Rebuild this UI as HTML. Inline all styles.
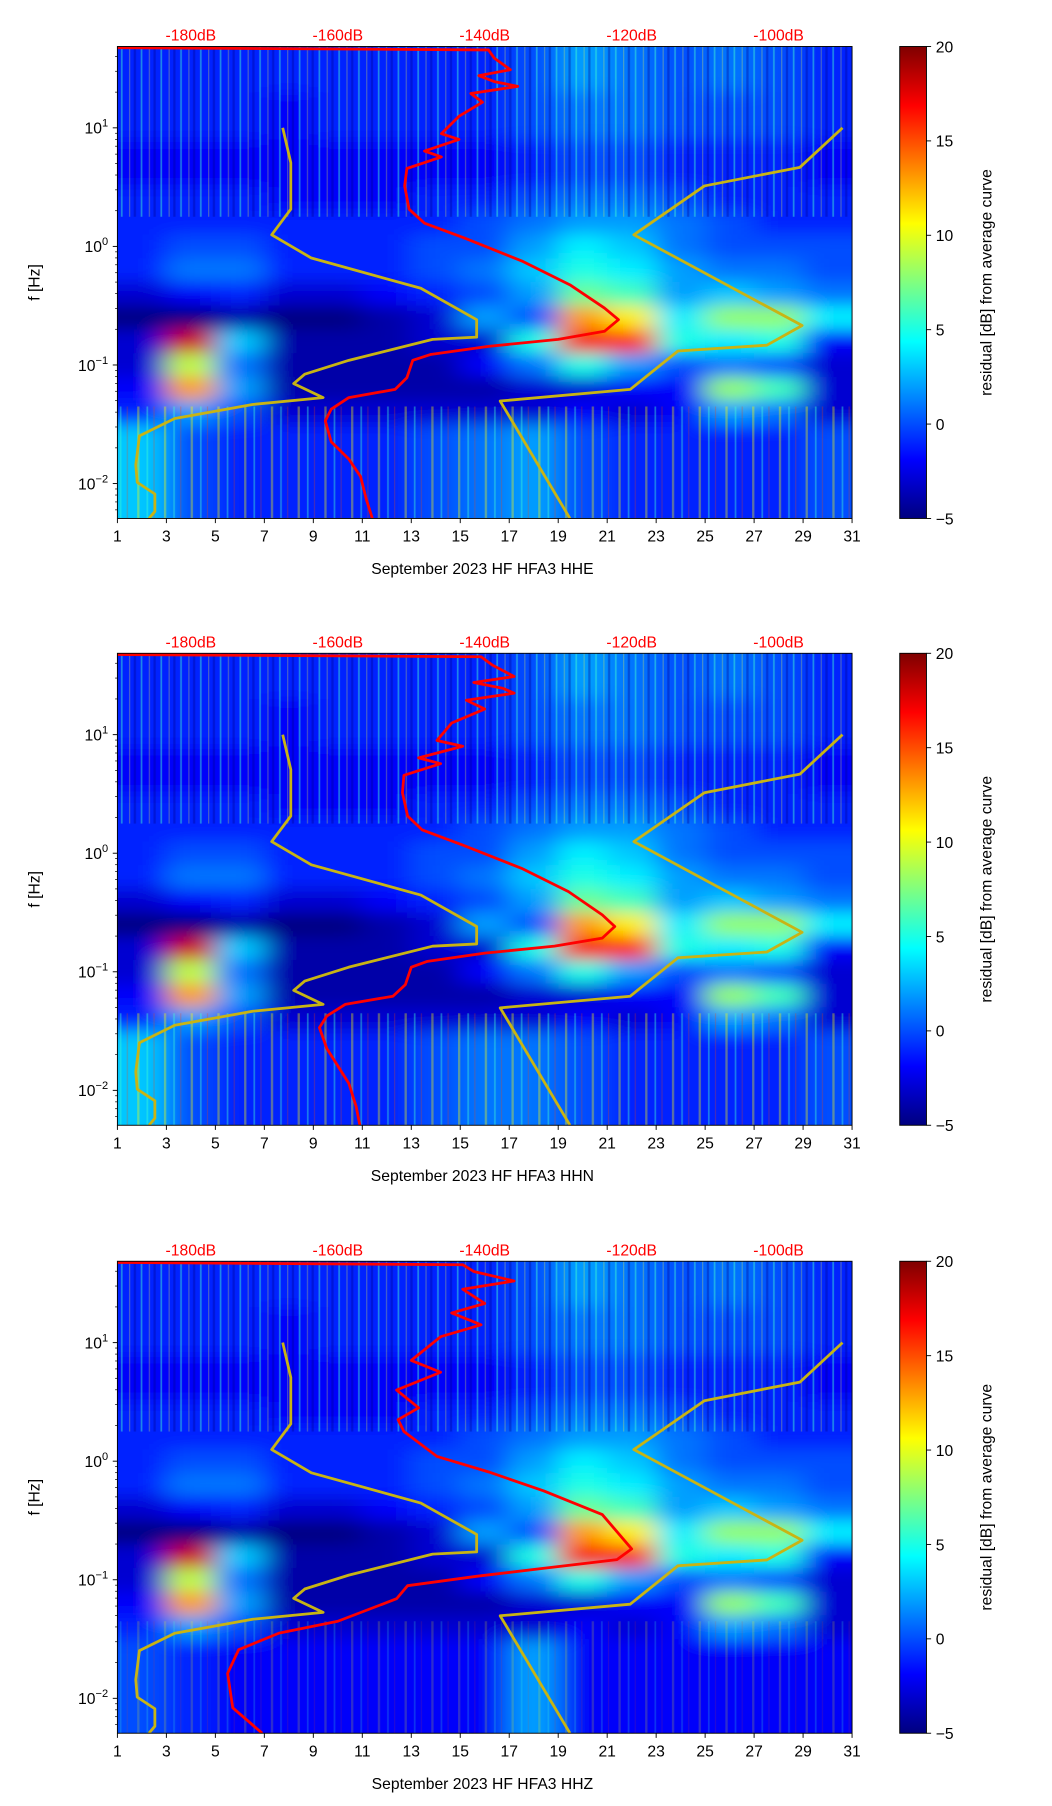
<!DOCTYPE html>
<html><head><meta charset="utf-8"><style>
html,body{margin:0;padding:0;background:#fff}
svg{display:block;font-family:"Liberation Sans","DejaVu Sans",sans-serif}
</style></head><body>
<svg id="fig" width="1052" height="1806" viewBox="0 0 905 1553.6" preserveAspectRatio="none" xmlns="http://www.w3.org/2000/svg">
<defs>
<linearGradient id="jet" x1="0" y1="1" x2="0" y2="0">
<stop offset="0" stop-color="#00007f"/><stop offset="0.125" stop-color="#0000ff"/><stop offset="0.375" stop-color="#00ffff"/><stop offset="0.625" stop-color="#ffff00"/><stop offset="0.875" stop-color="#ff0000"/><stop offset="1" stop-color="#7f0000"/>
</linearGradient>
<filter id="blur" x="-20%" y="-20%" width="140%" height="140%"><feGaussianBlur stdDeviation="12 7"/></filter>
<pattern id="streaks" width="17" height="40" patternUnits="userSpaceOnUse">
<rect x="2" y="0" width="1.5" height="40" fill="#40ffd0" opacity="0.45"/><rect x="9" y="0" width="1" height="40" fill="#ffff40" opacity="0.3"/><rect x="13" y="0" width="2" height="40" fill="#00008f" opacity="0.35"/>
</pattern>
<pattern id="streaksLow" width="23" height="40" patternUnits="userSpaceOnUse">
<rect x="3" y="0" width="2" height="40" fill="#ffff00" opacity="0.45"/><rect x="11" y="0" width="1.5" height="40" fill="#40ffd0" opacity="0.5"/><rect x="17" y="0" width="1" height="40" fill="#ff4000" opacity="0.35"/>
</pattern>
</defs>
</svg>
<script>
const xTicks=[1,3,5,7,9,11,13,15,17,19,21,23,25,27,29,31];
const dbTicks=[-180,-160,-140,-120,-100];
const cbTicks=[-5,0,5,10,15,20];
const yDecades=[1,0,-1,-2];
const heatDays=[2,4,6,8,10,12,14,16,18,20,22,24,26,28,30];
const heatLogF=[1.6,1.4,1.2,1.0,0.8,0.6,0.4,0.2,0.0,-0.2,-0.4,-0.6,-0.8,-1.0,-1.2,-1.4,-1.6,-1.8,-2.0,-2.2];
const heatUpper=[
[-1,-1,-1,-1,-1,-1,-1,-1,0,2,1,0,1,0,-1],
[-1,-1,-1,-1,-1,-1,-1,-1,0,2,1,0,1,0,-1],
[-1,-1,-1,-2,-1,-1,-1,-1,0,1,1,0,0,0,-1],
[-1,-1,-1,-2,-1,-1,-1,-1,0,1,1,0,0,0,-1],
[-2,-2,-2,-2,-2,-2,-2,-2,-1,0,0,-1,-1,-1,-2],
[-2,-2,-2,-2,-2,-2,-2,-2,-1,0,0,-1,-1,-1,-2],
[-1,-1,-1,-2,-2,-2,-1,-1,0,1,1,0,-1,-1,-1],
[-1,-1,-1,-1,-1,-1,-1,0,1,2,2,1,0,-1,-1],
[-1,0,0,-1,-1,-1,0,0,2,4,3,1,0,0,0],
[-1,1,1,-1,-1,-1,0,1,3,5,4,2,1,1,0],
[-3,-2,-1,-3,-3,-2,-1,0,2,7,6,2,3,2,1],
[-5,-5,-4,-5,-5,-4,-3,2,0,13,11,4,8,8,4],
[-3,18,3,-4,-4,-4,-3,-3,5,17,16,5,4,5,-2],
[-3,9,1,-4,-4,-4,-4,-2,1,5,2,0,1,0,-3],
[-2,13,2,-4,-4,-4,-4,-4,-3,-3,-2,-2,8,6,-3],
[-1,2,0,-3,-3,-3,-3,-3,-3,-2,-3,-2,2,1,-3]];
const heatLowP1=[3,0,-1,-1,-1,-1,0,1,2,0,-1,-1,-1,-1,0];
const heatLowP2=[3,0,-1,-1,-1,-1,0,1,1,0,-1,-1,-1,-1,0];
const heatLowP3=[0,-1,-2,-2,-2,-2,-2,-2,2,-2,-2,-2,-2,-2,-2];
const yellowLeftDb=[-167.5,-166.4,-166.4,-169.0,-163.6,-148.7,-141.1,-141.1,-147.1,-158.5,-164.5,-166.0,-162.0,-171.6,-182.2,-187.0,-187.5,-187.3,-184.9,-184.9,-185.7];
const yellowLeftF=[1.0,0.706,0.314,0.098,-0.098,-0.353,-0.618,-0.765,-0.784,-0.961,-1.078,-1.157,-1.275,-1.333,-1.451,-1.598,-1.843,-1.990,-2.088,-2.235,-2.294];
const yellowRightDb=[-91.3,-97.1,-110.1,-119.7,-96.8,-101.6,-113.7,-120.2,-137.9,-128.4];
const yellowRightF=[1.0,0.667,0.51,0.098,-0.667,-0.833,-0.882,-1.206,-1.304,-2.294];
const redP1Db=[-190,-139.5,-138.7,-136.5,-140.8,-138.7,-135.5,-141.9,-140.3,-143.5,-145.9,-143.5,-148.2,-145.9,-150.6,-150.9,-150.3,-148.2,-142.7,-134.8,-128.4,-123.7,-121.8,-123.7,-130.0,-139.5,-147.4,-149.8,-150.6,-152.2,-158.5,-160.9,-161.7,-160.9,-158.5,-156.9,-156.1,-155.3];
const redP1F=[1.676,1.657,1.588,1.49,1.44,1.39,1.35,1.29,1.216,1.098,0.951,0.902,0.804,0.755,0.657,0.51,0.314,0.196,0.069,-0.127,-0.324,-0.52,-0.618,-0.716,-0.784,-0.843,-0.912,-0.961,-1.108,-1.206,-1.275,-1.373,-1.471,-1.647,-1.794,-1.941,-2.137,-2.294];
const redP2Db=[-190,-140.5,-139.0,-136.0,-141.5,-137.5,-136.0,-142.5,-140.0,-144.5,-146.5,-143.0,-149.0,-146.0,-151.0,-151.2,-150.5,-148.5,-143.0,-135.0,-128.6,-124.0,-122.3,-124.0,-130.5,-140.0,-147.8,-150.0,-150.8,-152.5,-159.0,-161.5,-162.5,-161.5,-160.0,-158.5,-157.5,-157.0];
const redP2F=redP1F;
const redP3Db=[-190,-143.0,-141.5,-136.0,-143.0,-140.0,-144.5,-140.5,-146.0,-150.0,-146.0,-152.0,-149.0,-151.8,-151.0,-146.5,-139.5,-132.0,-124.0,-120.0,-122.0,-131.5,-141.0,-150.5,-152.0,-160.0,-168.0,-173.5,-175.0,-174.3,-170.3];
const redP3F=[1.676,1.657,1.60,1.52,1.45,1.33,1.25,1.15,1.05,0.85,0.75,0.6,0.45,0.35,0.25,0.04,-0.09,-0.25,-0.45,-0.74,-0.83,-0.90,-0.97,-1.05,-1.16,-1.35,-1.45,-1.59,-1.79,-2.08,-2.294];
const titles=["September 2023 HF HFA3  HHE","September 2023 HF HFA3  HHN","September 2023 HF HFA3  HHZ"];

const NS="http://www.w3.org/2000/svg";
const svg=document.getElementById('fig');
const X0=101,X1=733,PH=406,CBX=774,CBW=23;
const offsets=[0,522,1045];
function xDay(d){return X0+(d-1)*(X1-X0)/30;}
function xDb(db){return X0+(db+190)*(X1-X0)/100;}
function yF(lf,off){return 40+off+(1.686-lf)*102;}
function yCb(v,off){return 40+off+PH-(v+5)/25*PH;}
function jet(v){
  let t=Math.max(0,Math.min(1,(v+5)/25));
  const c=(x)=>Math.round(255*Math.max(0,Math.min(1,x)));
  const r=1.5-Math.abs(4*t-3), g=1.5-Math.abs(4*t-2), b=1.5-Math.abs(4*t-1);
  return `rgb(${c(r)},${c(g)},${c(b)})`;
}
function mk(tag,attrs,parent){const e=document.createElementNS(NS,tag);for(const k in attrs)e.setAttribute(k,attrs[k]);(parent||svg).appendChild(e);return e;}
function txt(s,attrs,parent){const e=mk('text',attrs,parent);e.textContent=s;return e;}

offsets.forEach((off,p)=>{
  const g=mk('g',{});
  
  
  const clipId='clip'+p;
  const cp=mk('clipPath',{id:clipId},g);mk('rect',{x:X0,y:40+off,width:X1-X0,height:PH},cp);
  const plot=mk('g',{'clip-path':`url(#${clipId})`},g);
  
  
  const hm=mk('g',{filter:'url(#blur)'},plot);
  const low=[heatLowP1,heatLowP2,heatLowP3][p];
  const cw=(X1-X0)/15;
  heatLogF.forEach((lf,ri)=>{
    const row=ri<16?heatUpper[ri]:low;
    heatDays.forEach((d,ci)=>{
      let x=xDay(d)-cw/2,w=cw;
      let y=yF(lf+0.1,off),h=yF(lf-0.1,off)-y;
      if(ci===0){x-=40;w+=40;} if(ci===14){w+=40;}
      if(ri===0){y-=40;h+=40;} if(ri===19){h+=40;}
      const r=mk('rect',{x:x,y:y,width:w+0.5,height:h+0.5,fill:jet(row[ci])},hm);
      
      
    });
  });
  const st=mk('rect',{x:X0,y:40+off,width:X1-X0,height:yF(0.25,off)-40-off,fill:'url(#streaks)'},plot);
  
  
  const st2=mk('rect',{x:X0,y:yF(-1.35,off),width:X1-X0,height:yF(-2.4,off)-yF(-1.35,off),fill:'url(#streaksLow)',opacity:p===2?0.4:0.8},plot);
  
  
  const yl=mk('polyline',{points:yellowLeftDb.map((d,i)=>xDb(d)+','+yF(yellowLeftF[i],off)).join(' '),fill:'none',stroke:'#c8b414',"stroke-width":2.4,"stroke-linejoin":"round"},plot);
  
  
  const yr=mk('polyline',{points:yellowRightDb.map((d,i)=>xDb(d)+','+yF(yellowRightF[i],off)).join(' '),fill:'none',stroke:'#c8b414',"stroke-width":2.4,"stroke-linejoin":"round"},plot);
  
  
  const rdb=[redP1Db,redP2Db,redP3Db][p], rf=[redP1F,redP2F,redP3F][p];
  const rl=mk('polyline',{points:rdb.map((d,i)=>xDb(d)+','+yF(rf[i],off)).join(' '),fill:'none',stroke:'#ff0000',"stroke-width":2.4,"stroke-linejoin":"round"},plot);
  
  
  const fr=mk('rect',{x:X0,y:40+off,width:X1-X0,height:PH,fill:'none',stroke:'#000','stroke-width':0.8},g);
  
  
  xTicks.forEach(d=>{
    mk('line',{x1:xDay(d),x2:xDay(d),y1:446+off,y2:450+off,stroke:'#000','stroke-width':0.8},g);
    const t=txt(String(d),{x:xDay(d),y:466+off,'font-size':13.5,'text-anchor':'middle'},g);
    
    
  });
  yDecades.forEach(e=>{
    const y=yF(e,off);
    mk('line',{x1:X0-4,x2:X0,y1:y,y2:y,stroke:'#000','stroke-width':0.8},g);
    const t=mk('text',{x:X0-8,y:y+5,'font-size':13.5,'text-anchor':'end'},g);
    
    
    t.innerHTML=`10<tspan dy="-6" font-size="9.5">${e<0?'\u2212'+(-e):e}</tspan>`;
  });
  for(let e=-3;e<=1;e++)for(let m=2;m<=9;m++){
    const lf=e+Math.log10(m);
    if(lf<-2.3||lf>1.686)continue;
    mk('line',{x1:X0-2,x2:X0,y1:yF(lf,off),y2:yF(lf,off),stroke:'#000','stroke-width':0.6},g);
  }
  dbTicks.forEach(db=>{
    const t=txt(db+'dB',{x:xDb(db),y:35+off,'font-size':13.5,'text-anchor':'middle',fill:'#ff0000'},g);
    
    
  });
  const xt=txt(titles[p],{x:415,y:494+off,'font-size':13.5,'text-anchor':'middle'},g);
  
  
  const yt=txt('f [Hz]',{x:0,y:0,'font-size':13.5,'text-anchor':'middle',transform:`translate(34,${243+off}) rotate(-90)`},g);
  
  
  const cb=mk('rect',{x:CBX,y:40+off,width:CBW,height:PH,fill:'url(#jet)',stroke:'#000','stroke-width':0.8},g);
  
  
  cbTicks.forEach(v=>{
    const y=yCb(v,off);
    mk('line',{x1:CBX+CBW,x2:CBX+CBW+4,y1:y,y2:y,stroke:'#000','stroke-width':0.8},g);
    const t=txt(v<0?'\u2212'+(-v):String(v),{x:CBX+CBW+8,y:y+5,'font-size':13.5},g);
    
    
  });
  const ct=txt('residual [dB] from average curve',{x:0,y:0,'font-size':13.5,'text-anchor':'middle',transform:`translate(853,${243+off}) rotate(-90)`},g);
  
  
});
</script>
</body></html>
